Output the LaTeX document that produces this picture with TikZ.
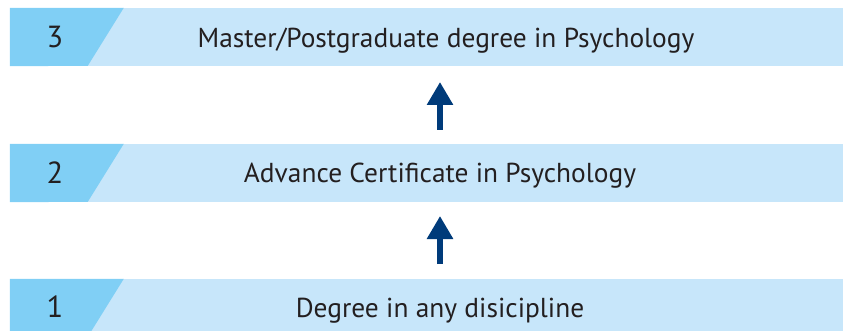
\documentclass[tikz,border=0pt]{standalone}
\usepackage{fontspec}
\setmainfont{PT Sans}
\usepackage{tikz}
\usetikzlibrary{arrows.meta}
\usetikzlibrary{positioning}
\definecolor{barlight}{HTML}{C7E6FA}
\definecolor{bardark}{HTML}{80CFF5}
\definecolor{arrowblue}{HTML}{003B7A}
\definecolor{textgray}{HTML}{231F20}
\tikzset{>=latex}
\tikzstyle{bar} = [rectangle, fill=barlight, draw=none, minimum width=833pt, minimum height=58pt, inner sep=0]
\tikzstyle{tab} = [fill=bardark, draw=none]
\tikzstyle{label} = [draw=none, text=textgray, anchor=base, font=\fontsize{27.4}{30}\selectfont, inner sep=0]
\tikzstyle{num} = [label, font=\fontsize{30.5}{34}\selectfont]
\tikzstyle{up} = [-{Triangle[width=25pt, length=23pt]}, line width=6pt, draw=arrowblue, shorten >=0pt]

\begin{document}
\begin{tikzpicture}[x=1pt, y=-1pt]
\clip (0,0) rectangle (843,331);
% bars
\node [bar] (bar3) at (426.5, 37) {};
\node [bar] (bar2) at (426.5, 173) {};
\node [bar] (bar1) at (426.5, 308) {};
% dark tabs
\fill [tab] (bar3.north west) -- ++(114,0) -- ++(-36,58) -- (bar3.south west) -- cycle;
\fill [tab] (bar2.north west) -- ++(114,0) -- ++(-36,58) -- (bar2.south west) -- cycle;
\fill [tab] (bar1.north west) -- ++(114,0) -- ++(-36,58) -- (bar1.south west) -- cycle;
% numbers and texts
\node [num] (n3) at (55, 48) {3};
\node [num] (n2) at (55, 183.5) {2};
\node [num] (n1) at (55, 317) {1};
\node [label] (t3) at (446, 47.5) {Master/Postgraduate degree in Psychology};
\node [label] (t2) at (440, 182.5) {Advance Certificate in Psychology};
\node [label] (t1) at (440, 317) {Degree in any disicipline};
% arrows
\coordinate (a1) at (440, 264);
\coordinate (b1) at (440, 216);
\coordinate (a2) at (440, 130);
\coordinate (b2) at (440, 82);
\draw [up] (a1) -- (b1);
\draw [up] (a2) -- (b2);
\end{tikzpicture}
\end{document}
